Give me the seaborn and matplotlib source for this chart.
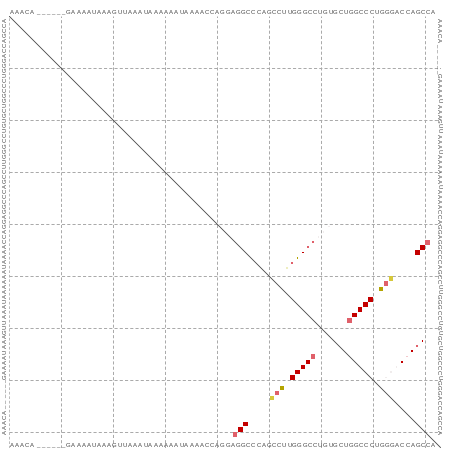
import numpy as np
import pandas as pd
import matplotlib
matplotlib.use("Agg")
import matplotlib.pyplot as plt
import seaborn as sns

# ---------------- data ----------------
sequence = "AAACA______GAAAAUAAAGUUAAAUAAAAAAUAAAACCAGGAGGCCCAGCCUUGGGCCUGUGCUGGCCCUGGGACCAGCCA"

# base pairs of the structure (shown in both triangles)
pair_i = [44, 45, 46, 51, 52, 53, 55, 56, 57, 58, 59]
pair_j = [81, 80, 79, 74, 73, 72, 70, 69, 68, 67, 66]
pair_type = ["pink", "red", "red", "ochre_l", "pink", "ochre", "red", "red", "red", "red", "pink"]
pair_prob = [0.90, 0.85, 0.85, 0.72, 0.85, 0.78, 0.85, 0.85, 0.85, 0.85, 0.90]
mfe_prob = [0.68, 0.68, 0.68, 0.62, 0.68, 0.62, 0.68, 0.68, 0.68, 0.68, 0.72]

# alternative (low probability) pairs, upper triangle only
alt_i = [49, 48, 47, 46, 45, 44, 43, 42, 41, 63, 64, 65, 66, 67, 68, 69, 70]
alt_j = [54, 55, 56, 57, 58, 59, 60, 61, 62, 80, 79, 78, 77, 76, 75, 74, 73]
alt_type = ["faint_y", "pink", "ochre", "red", "pink", "pink", "faint", "faint", "faint",
            "red", "pink", "red", "faint_p", "red", "faint", "faint", "faint"]
alt_prob = [0.16, 0.15, 0.11, 0.11, 0.16, 0.19, 0.08, 0.08, 0.08,
            0.11, 0.15, 0.15, 0.11, 0.15, 0.06, 0.08, 0.06]

grid_positions = [10.5, 20.5, 30.5, 40.5, 50.5, 60.5, 70.5, 80.5]

palette = {
    "red": "#c40000",
    "pink": "#e0606a",
    "ochre": "#b4a400",
    "ochre_l": "#d6c83a",
    "faint_y": "#eeeec0",
    "faint_p": "#f2c8cc",
    "faint": "#f0ecec",
}

# ---------------- figure ----------------
sns.set_style("white")
plt.rcParams["font.family"] = ["Liberation Sans", "DejaVu Sans"]

W, H = 452, 451
fig = plt.figure(figsize=(W / 100, H / 100), dpi=100)
n = len(sequence)
cell = 5.2  # px per nucleotide
ax_w = n * cell
ax = fig.add_axes([9 / W, 1 - (16 + ax_w) / H, ax_w / W, ax_w / H])
ax.set_xlim(0.5, n + 0.5)
ax.set_ylim(n + 0.5, 0.5)

# grid
ax.set_xticks(grid_positions)
ax.set_yticks(grid_positions)
ax.tick_params(length=0, labelbottom=False, labelleft=False)
for s in ax.spines.values():
    s.set_visible(False)
ax.grid(True, linestyle=(0, (3.2, 2.2)), color="#a8a8a8", linewidth=0.7)
ax.axvline(0.5, linestyle=(0, (3.2, 2.2)), color="#b0b0b0", linewidth=0.6)

# diagonal
ax.plot([0.5, n + 0.5], [0.5, n + 0.5], color="#444444", linewidth=0.6)

# dots
side_max_pt = cell * 72 / 100
upper = pd.DataFrame({"col": pair_j, "row": pair_i, "type": pair_type, "p": pair_prob})
lower = pd.DataFrame({"col": pair_i, "row": pair_j, "type": pair_type, "p": mfe_prob})
alt = pd.DataFrame({"col": alt_j, "row": alt_i, "type": alt_type, "p": alt_prob})
dots = pd.concat([alt, upper, lower], ignore_index=True)
dots["area"] = (np.sqrt(dots["p"]) * side_max_pt) ** 2
sizes = {v: v for v in dots["area"].unique()}
sns.scatterplot(data=dots, x="col", y="row", hue="type", palette=palette,
                size="area", sizes=sizes, marker="s", linewidth=0,
                legend=False, ax=ax, zorder=3)
ax.set_xlabel("")
ax.set_ylabel("")

# sequence labels
fs = 4.3
tc = "#444444"
step_h = 5.14 / cell
step_v = 5.03 / cell
for k, ch in enumerate(sequence):
    xh = 1.02 + k * step_h
    # top
    ax.text(xh, 0.35, ch, ha="center", va="bottom", fontsize=fs, color=tc, clip_on=False)
    # bottom
    ax.text(xh, 83.55, ch, ha="center", va="bottom", fontsize=fs, color=tc, clip_on=False)
    # right (reading top to bottom)
    ax.text(83.1, 1.27 + k * step_v, ch, ha="center", va="center", rotation=-90,
            fontsize=fs, color=tc, clip_on=False)
    # left (reading bottom to top)
    ax.text(-0.2, 80.5 - k * step_v, ch, ha="center", va="center", rotation=90,
            fontsize=fs, color=tc, clip_on=False)

fig.savefig("out.png", dpi=100)
